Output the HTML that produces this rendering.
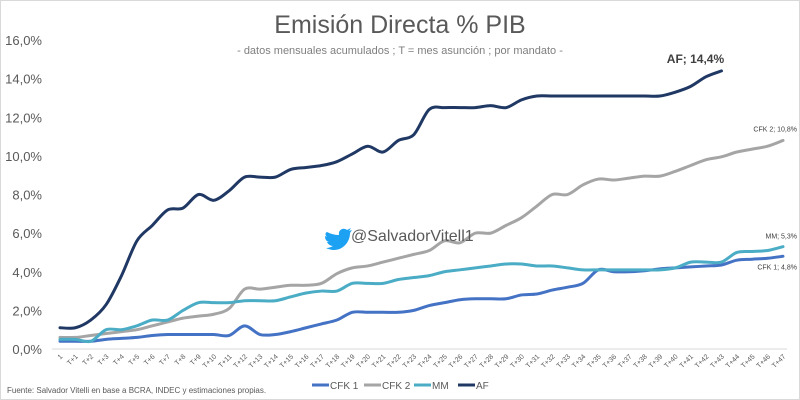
<!DOCTYPE html>
<html><head><meta charset="utf-8"><style>
html,body{margin:0;padding:0;background:#fff;}
svg{display:block;font-family:"Liberation Sans",sans-serif;}
</style></head><body>
<svg id="chart" width="800" height="400" viewBox="0 0 800 400">
<rect x="0" y="0" width="800" height="400" fill="#fff"/>
<rect x="0.5" y="0.5" width="799" height="399" fill="none" stroke="#d9d9d9"/>
<text x="400" y="33" text-anchor="middle" font-size="25" fill="#595959">Emisión Directa % PIB</text>
<text x="400" y="54" text-anchor="middle" font-size="11" fill="#7f7f7f">- datos mensuales acumulados ; T = mes asunción ; por mandato -</text>
<g id="yaxis"></g>
<g id="xaxis"></g>
<g id="series"></g>
<g>
<text x="351" y="241" font-size="16" fill="#595959">@SalvadorVitell1</text>
<path d="M327 232 c4 2 8 3 12 3 c-1 -5 4 -8 8 -5 l4 -2 l-2 3 l3 -1 l-2 3 c0 9 -7 17 -16 17 c-3 0 -6 -1 -8 -2 c3 0 5 -1 7 -2 c-3 0 -5 -2 -6 -4 l2 0 c-3 -1 -4 -3 -4 -6 l2 1 c-2 -2 -2 -4 0 -5z" fill="#1da1f2"/>
</g>
<text x="7" y="393" font-size="8" fill="#595959">Fuente:  Salvador Vitelli  en base a BCRA, INDEC y estimaciones  propias.</text>
<g id="legend"></g>
</svg>
<script>
const categories = ["1"]; for (let i = 1; i <= 47; i++) categories.push("T+" + i);
const yTicks = [0,2,4,6,8,10,12,14,16];
const cfk1 = [0.4,0.4,0.4,0.5,0.55,0.6,0.7,0.75,0.75,0.75,0.75,0.7,1.2,0.75,0.75,0.9,1.1,1.3,1.5,1.9,1.9,1.9,1.9,2.0,2.25,2.4,2.55,2.6,2.6,2.6,2.8,2.85,3.05,3.2,3.4,4.1,4.0,4.0,4.05,4.15,4.2,4.25,4.3,4.35,4.6,4.65,4.7,4.8];
const cfk2 = [0.6,0.6,0.7,0.8,0.9,1.0,1.2,1.4,1.6,1.7,1.8,2.1,3.1,3.1,3.2,3.3,3.3,3.4,3.9,4.2,4.3,4.5,4.7,4.9,5.1,5.6,5.5,6.0,6.0,6.4,6.8,7.4,8.0,8.0,8.5,8.8,8.75,8.85,8.95,8.95,9.2,9.5,9.8,9.95,10.2,10.35,10.5,10.8];
const mm = [0.5,0.5,0.4,1.0,1.0,1.2,1.5,1.5,2.0,2.4,2.4,2.4,2.5,2.5,2.5,2.7,2.9,3.0,3.0,3.4,3.4,3.4,3.6,3.7,3.8,4.0,4.1,4.2,4.3,4.4,4.4,4.3,4.3,4.2,4.1,4.1,4.1,4.1,4.1,4.1,4.2,4.5,4.5,4.5,5.0,5.05,5.1,5.3];
const af = [1.1,1.1,1.5,2.3,3.8,5.6,6.4,7.2,7.3,8.0,7.7,8.2,8.9,8.9,8.9,9.3,9.4,9.5,9.7,10.1,10.5,10.2,10.8,11.1,12.4,12.5,12.5,12.5,12.6,12.5,12.9,13.1,13.1,13.1,13.1,13.1,13.1,13.1,13.1,13.1,13.3,13.6,14.1,14.4];
const seriesNames = ["CFK 1","CFK 2","MM","AF"];
const seriesColors = ["#4472c4","#a5a5a5","#4bacc6","#203864"];

const NS = "http://www.w3.org/2000/svg";
const X0 = 60, X1 = 783, Y0 = 349, Y1 = 40, YMAX = 16;
const x = i => X0 + i * (X1 - X0) / (categories.length - 1);
const y = v => Y0 - v / YMAX * (Y0 - Y1);
function mk(tag, attrs, parent) { const e = document.createElementNS(NS, tag); for (const k in attrs) e.setAttribute(k, attrs[k]); parent.appendChild(e); return e; }

const yg = document.getElementById("yaxis");
const base = mk("line", {x1: 52, x2: 787, y1: Y0, y2: Y0, stroke: "#d9d9d9", "stroke-width": 1}, yg);


yTicks.forEach(t => {
  const tx = mk("text", {x: 42, y: y(t) + 5, "text-anchor": "end", "font-size": 13, fill: "#595959"}, yg);
  tx.textContent = t.toFixed(1).replace(".", ",") + "%";
  
  
});
const xg = document.getElementById("xaxis");
categories.forEach((c, i) => {
  const tx = mk("text", {x: x(i) + 3, y: 357, "text-anchor": "end", "font-size": 7, fill: "#595959", transform: `rotate(-45 ${x(i) + 3} 357)`}, xg);
  tx.textContent = c;
  
  
});

function smoothPath(vals) {
  const p = vals.map((v, i) => [x(i), y(v)]);
  let d = `M${p[0][0]},${p[0][1]}`;
  for (let i = 0; i < p.length - 1; i++) {
    const p0 = p[i - 1] || p[i], p1 = p[i], p2 = p[i + 1], p3 = p[i + 2] || p2;
    const t = 0.16;
    d += ` C${p1[0] + (p2[0] - p0[0]) * t},${p1[1] + (p2[1] - p0[1]) * t} ${p2[0] - (p3[0] - p1[0]) * t},${p2[1] - (p3[1] - p1[1]) * t} ${p2[0]},${p2[1]}`;
  }
  return d;
}
const sg = document.getElementById("series");
const allSeries = [cfk1, cfk2, mm, af];
const lineNames = ["line-cfk1", "line-cfk2", "line-mm", "line-af"];
allSeries.forEach((vals, k) => {
  const p = mk("path", {d: smoothPath(vals), fill: "none", stroke: seriesColors[k], "stroke-width": 3, "stroke-linejoin": "round", "stroke-linecap": "round"}, sg);
  
  
});
function endLabel(txt, xx, yy, size, bold, anchor) {
  const t = mk("text", {x: xx, y: yy, "font-size": size, fill: "#404040", "text-anchor": anchor, "font-weight": bold ? "bold" : "normal"}, sg);
  t.textContent = txt;
  
  
}
const fmt = v => v.toFixed(1).replace(".", ",") + "%";
endLabel("AF; " + fmt(af[af.length - 1]), x(af.length - 1) - 26, y(af[af.length - 1]) - 8, 12, true, "middle");
endLabel("CFK 2; " + fmt(cfk2[47]), 797, y(cfk2[47]) - 9, 7, false, "end");
endLabel("MM; " + fmt(mm[47]), 797, y(mm[47]) - 8, 7, false, "end");
endLabel("CFK 1; " + fmt(cfk1[47]), 797, y(cfk1[47]) + 13, 7, false, "end");

const lg = document.getElementById("legend");
const lx = [312, 364, 414, 458];
seriesNames.forEach((n, k) => {
  const g = mk("g", {}, lg);
  
  
  mk("line", {x1: lx[k], x2: lx[k] + 17, y1: 385, y2: 385, stroke: seriesColors[k], "stroke-width": 3}, g);
  const t = mk("text", {x: lx[k] + 18, y: 389, "font-size": 10, fill: "#595959"}, g);
  t.textContent = n;
});
</script>
</body></html>
